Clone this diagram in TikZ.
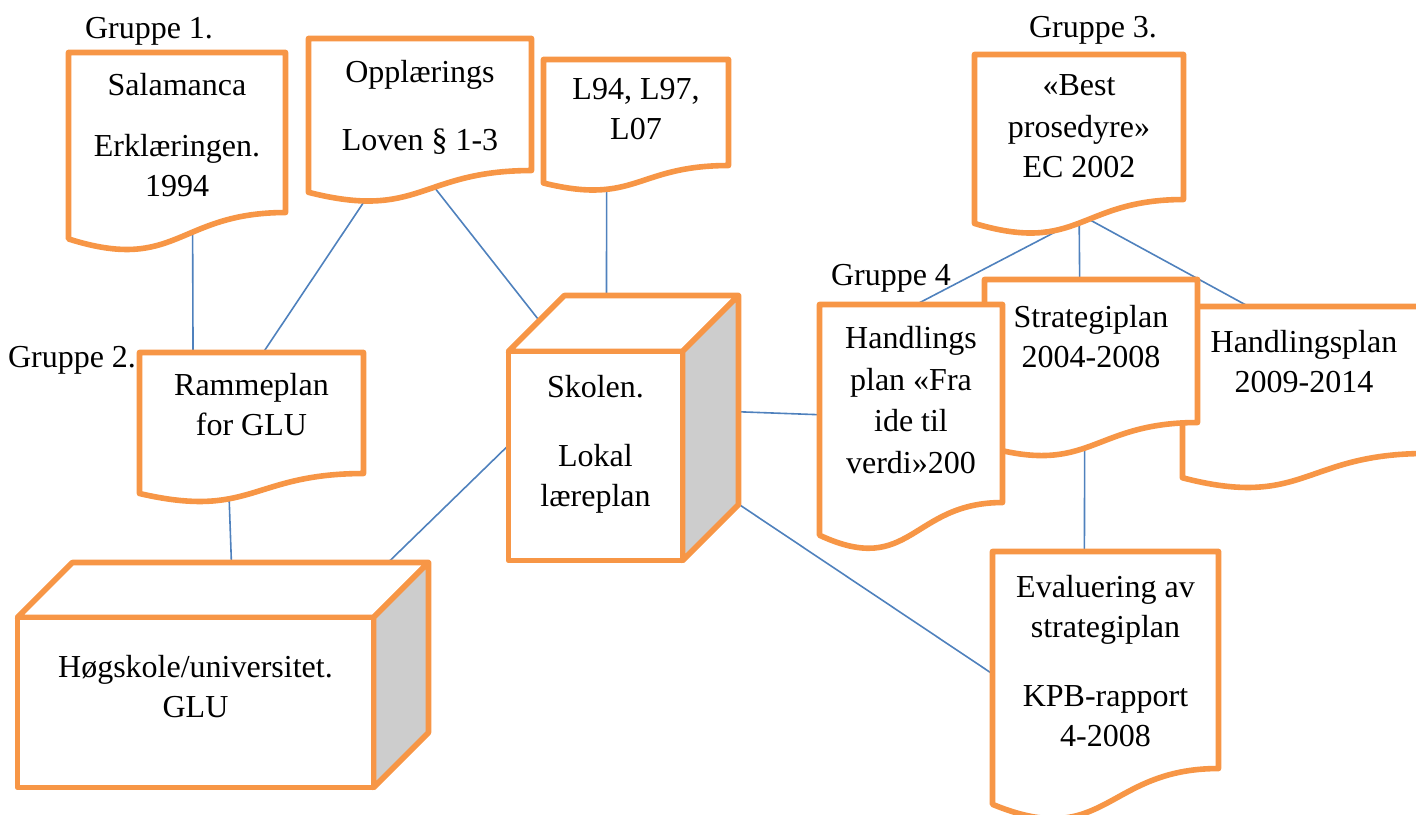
\documentclass[tikz,border=0pt]{standalone}
\usepackage{fontspec}
\setmainfont{Liberation Serif}
\usetikzlibrary{fit,backgrounds,calc}

\definecolor{DocOrange}{HTML}{F79646}
\definecolor{LinkBlue}{HTML}{4F81BD}
\definecolor{SideGray}{HTML}{CDCDCD}

\pgfdeclarelayer{links}
\pgfsetlayers{links,background,main}

% wavy document outline round the text area of a node
\newcommand{\docshape}[1]{%
  \draw[outline] (#1.north west) -- (#1.north east) -- (#1.south east)
    .. controls (#1.south) and ($(#1.north)!1.38!(#1.south)$)
    .. ($(#1.north west)!1.165!(#1.south west)$) -- cycle;}
% box with top and grey right side
\newcommand{\cubeshape}[2]{%
  \draw[outline] (#1.north west) -- ++(#2,-#2) -- ($(#1.north east)+(#2,-#2)$) -- (#1.north east) -- cycle;
  \draw[outline, fill=SideGray] (#1.north east) -- ++(#2,-#2) -- ($(#1.south east)+(#2,-#2)$) -- (#1.south east) -- cycle;
  \draw[outline] (#1.north west) rectangle (#1.south east);}

\begin{document}
\begin{tikzpicture}[x=0.375pt, y=-0.375pt]
\tikzset{every node/.style={font=\fontsize{12}{15}\selectfont}}
\tikzset{area/.style={inner sep=0pt}}
\tikzset{txt/.style={inner sep=0pt, align=center, anchor=north}}
\tikzset{grp/.style={inner sep=0pt}}
\tikzset{outline/.style={draw=DocOrange, line width=2.1pt, line join=round, fill=white}}
\tikzset{link/.style={draw=LinkBlue, line width=0.6pt}}

\useasboundingbox (0,0) rectangle (1416,815);

\node[grp] (G1) at (149,31) {Gruppe 1.};
\node[grp] (G2) at (72,360) {Gruppe 2.};
\node[grp] (G3) at (1093,30) {Gruppe 3.};
\node[grp] (G4) at (891,278) {Gruppe 4};

% text areas of the shapes
\node[area, fit={(69,53)(285,212)}] (Sal) {};
\node[area, fit={(309,39)(531,170)}] (Oppl) {};
\node[area, fit={(544,60)(728,165)}] (Lov) {};
\node[area, fit={(975,55)(1183,199)}] (Best) {};
\node[area, fit={(140,353)(363,473)}] (Ramme) {};
\node[area, fit={(820,305)(1002,502)}] (Hand) {};
\node[area, fit={(985,280)(1197,422)}] (Strat) {};
\node[area, fit={(1183,307)(1425,453)}] (HPlan) {};
\node[area, fit={(993,552)(1218,768)}] (Eval) {};
\node[area, fit={(509,352)(682,560)}] (Skole) {};
\node[area, fit={(18,618)(373,787)}] (Hog) {};

\node[txt] (Sal-t) at ($(Sal.north)+(0,20)$) {Salamanca\\[8pt]Erklæringen.\\1994};
\node[txt] (Oppl-t) at ($(Oppl.north)+(0,21)$) {Opplærings\\[10.5pt]Loven § 1-3};
\node[txt] (Lov-t) at ($(Lov.north)+(0,18)$) {L94, L97,\\L07};
\node[txt] (Best-t) at ($(Best.north)+(0,20)$) {«Best\\[0.5pt]prosedyre»\\EC 2002};
\node[txt] (Ramme-t) at ($(Ramme.north)+(0,20)$) {Rammeplan\\for GLU};
\node[txt] (Hand-t) at ($(Hand.north)+(0,21)$) {Handlings\\[0.7pt]plan «Fra\\[0.7pt]ide til\\[0.7pt]verdi»200};
\node[txt] (Strat-t) at ($(Strat.north)+(0,25)$) {Strategiplan\\2004-2008};
\node[txt] (HPlan-t) at ($(HPlan.north)+(0,23)$) {Handlingsplan\\2009-2014};
\node[txt] (Eval-t) at ($(Eval.north)+(0,23)$) {Evaluering av\\strategiplan\\[11pt]KPB-rapport\\4-2008};
\node[txt] (Skole-t) at ($(Skole.north)+(0,23)$) {Skolen.\\[11pt]Lokal\\læreplan};
\node[txt] (Hog-t) at ($(Hog.north)+(0,37)$) {Høgskole/universitet.\\GLU};

\begin{scope}[on background layer]
\docshape{Sal}
\docshape{Oppl}
\docshape{Lov}
\docshape{Best}
\docshape{Ramme}
\docshape{HPlan}
\docshape{Strat}
\docshape{Hand}
\docshape{Eval}
\cubeshape{Skole}{56}
\cubeshape{Hog}{55}
\end{scope}

\begin{pgfonlayer}{links}
\draw[link] (Sal.-79) -- (Ramme.134);
\draw[link] (Oppl.-118) -- (Ramme.79);
\draw[link] (Oppl.-89) -- (Skole.107);
\draw[link] (Lov.-119) -- (Skole.84);
\draw[link] (Ramme.-111) -- (Hog.66);
\draw[link] (Skole.173) -- (Hog.32);
\draw[link] (Skole.28.5) -- (Hand.187);
\draw[link] (Skole.-7) -- (Eval.187);
\draw[link] (Best.-62) -- (Hand.87);
\draw[link] (Best.south) -- (Strat.99);
\draw[link] (Best.-110) -- (HPlan.127);
\draw[link] (Strat.-95) -- (Eval.101);
\end{pgfonlayer}
\end{tikzpicture}
\end{document}
